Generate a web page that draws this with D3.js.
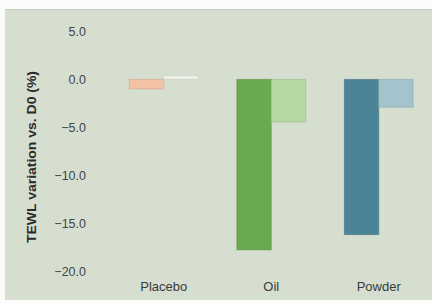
<!DOCTYPE html>
<html>
<head>
<meta charset="utf-8">
<script src="https://cdn.jsdelivr.net/npm/d3@7"></script>
<style>
  html, body { margin: 0; padding: 0; background: #fbfbfa; }
  svg { display: block; }
  text { font-family: "Liberation Sans", Arial, sans-serif; }
</style>
</head>
<body>
<svg id="chart" width="432" height="303"></svg>
<script>
const categories = ["Placebo", "Oil", "Powder"];
const seriesNames = ["D1", "D2"];
const seriesD1 = [-1.0, -17.8, -16.2];
const seriesD2 = [0.4, -4.45, -2.9];
const yTicks = [5, 0, -5, -10, -15, -20];
const yTitle = "TEWL variation vs. D0 (%)";
const barColors = [
  ["#f3c1a3", "#eef1e8"],
  ["#6aaa4f", "#b5d7a2"],
  ["#4b8397", "#a3c4cc"]
];

const svg = d3.select("#chart");
const W = 432, H = 303;

// panel
svg.append("rect").attr("x", 5).attr("y", 9).attr("width", W - 5).attr("height", 291)
  .attr("fill", "#d6ded0");
svg.append("line").attr("x1", 5).attr("x2", W).attr("y1", 9.5).attr("y2", 9.5)
  .attr("stroke", "#c9cfc5").attr("stroke-width", 1);

const y = d3.scaleLinear().domain([-20, 5]).range([271, 31.5]);
const x0 = d3.scaleBand().domain(categories).range([110, 432.5])
  .paddingInner(0.36).paddingOuter(0.18);
const x1 = d3.scaleBand().domain(seriesNames).range([0, x0.bandwidth()]);

// y axis
const yAxis = d3.axisLeft(y).tickValues(yTicks).tickFormat(d3.format(".1f"))
  .tickSize(0).tickPadding(4);
const gy = svg.append("g").attr("transform", "translate(90,0)").call(yAxis);
gy.select(".domain").remove();
gy.selectAll("text").attr("font-size", 12.5).attr("fill", "#454545")
  .attr("font-family", "Liberation Sans, Arial, sans-serif");

// y title
svg.append("text")
  .attr("transform", "translate(36,157) rotate(-90)")
  .attr("text-anchor", "middle")
  .attr("font-size", 12)
  .attr("font-weight", "bold")
  .attr("fill", "#2a2a2a")
  .attr("textLength", 172)
  .attr("lengthAdjust", "spacingAndGlyphs")
  .text(yTitle);

// bars
const data = [];
categories.forEach((c, i) => {
  data.push({ cat: c, s: "D1", v: seriesD1[i], color: barColors[i][0] });
  data.push({ cat: c, s: "D2", v: seriesD2[i], color: barColors[i][1] });
});

svg.append("g").selectAll("rect").data(data).join("rect")
  .attr("x", d => x0(d.cat) + x1(d.s))
  .attr("y", d => y(Math.max(0, d.v)))
  .attr("width", x1.bandwidth())
  .attr("height", d => Math.abs(y(d.v) - y(0)))
  .attr("fill", d => d.color)
  .attr("stroke", d => d3.color(d.color).darker(0.5))
  .attr("stroke-opacity", 0.5)
  .attr("stroke-width", 1);

// category labels
svg.append("g").selectAll("text").data(categories).join("text")
  .attr("x", d => x0(d) + x0.bandwidth() / 2)
  .attr("y", 291)
  .attr("text-anchor", "middle")
  .attr("font-size", 13)
  .attr("fill", "#3a3a3a")
  .text(d => d);
</script>
</body>
</html>
